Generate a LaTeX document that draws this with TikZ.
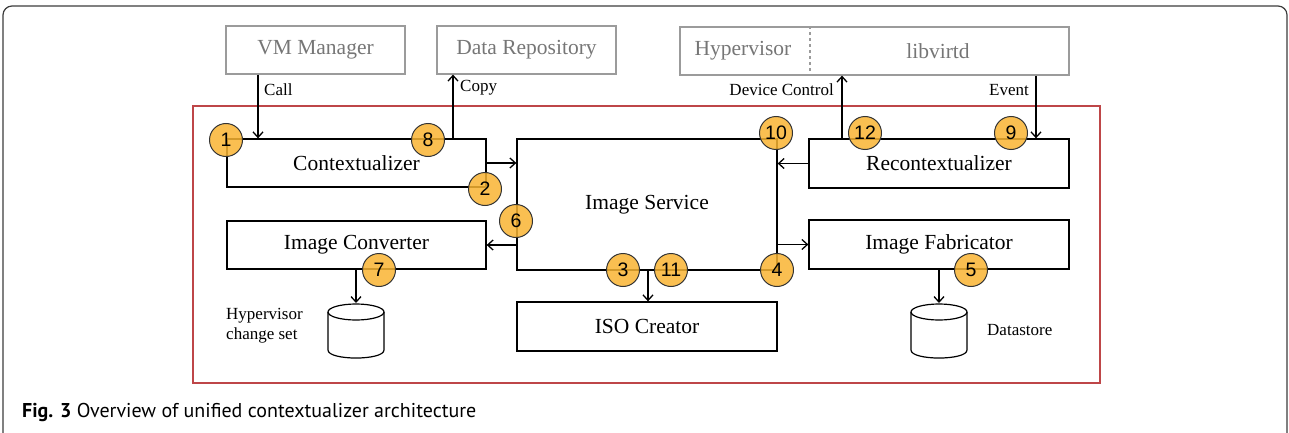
\documentclass[tikz,border=0pt]{standalone}
\usepackage{fontspec}
\setmainfont{Liberation Serif}
\newfontfamily\numfont{Liberation Sans}
\newfontfamily\capfont{PT Sans}
\usetikzlibrary{arrows.meta,calc}
\definecolor{frameline}{RGB}{60,60,60}
\definecolor{redframe}{RGB}{190,70,72}
\definecolor{greyline}{RGB}{155,155,155}
\definecolor{greytext}{RGB}{118,118,118}
\definecolor{stepfill}{RGB}{249,180,50}

\begin{document}
\begin{tikzpicture}[x=1pt,y=-1pt,
  box/.style={draw=black, line width=1.3pt, inner sep=0pt,
    font=\fontsize{21.5}{24}\selectfont},
  extbox/.style={draw=greyline, line width=1.2pt, text=greytext, inner sep=0pt,
    minimum height=48pt, font=\fontsize{21.5}{24}\selectfont},
  exttext/.style={text=greytext, inner sep=0pt, font=\fontsize{21.5}{24}\selectfont},
  arr/.style={line width=1.3pt, -{Straight Barb[length=5.5pt,width=10pt]}},
  lbl/.style={inner sep=0pt, font=\fontsize{17}{20}\selectfont},
  badge/.style={circle, draw=black!80, line width=1pt, fill=stepfill,
    fill opacity=0.85, text opacity=1, minimum size=33pt, inner sep=0pt,
    font=\numfont\fontsize{19.5}{19.5}\selectfont},
]
\useasboundingbox (0,0) rectangle (1289,433);
\clip (0,0) rectangle (1289,433);

% page frame and system boundary
\draw[frameline, line width=1.2pt, rounded corners=9pt] (3,6) rectangle (1287,470);
\draw[redframe, line width=1.2pt] (193,106) rectangle (1100,383);

% external components
\node[extbox, minimum width=179pt] (vmm) at (315.5,50) {VM Manager};
\node[extbox, minimum width=179pt] (repo) at (526.5,50) {Data Repository};
\node[extbox, minimum width=389pt] (hyp) at (874.5,51) {};
\coordinate (div) at (810,0);
\draw[greyline, line width=1.2pt, dashed] (hyp.north -| div) -- (hyp.south -| div);
\node[exttext] (hyptxt) at (743,51) {Hypervisor};
\node[exttext] (libv) at (938,51) {libvirtd};

% internal components
\node[box, minimum width=259pt, minimum height=48pt] (ctx) at (356.5,163) {Contextualizer};
\node[box, minimum width=260pt, minimum height=131pt] (svc) at (647,204.5) {Image Service};
\node[box, minimum width=260pt, minimum height=49pt] (rectx) at (939,163.5) {Recontextualizer};
\node[box, minimum width=259pt, minimum height=48pt] (conv) at (356.5,245) {Image Converter};
\node[box, minimum width=260pt, minimum height=49pt] (fab) at (939,244.5) {Image Fabricator};
\node[box, minimum width=260pt, minimum height=49pt] (iso) at (647,326.5) {ISO Creator};

% storage cylinders
\foreach \cx/\nm in {356/db1, 939/db2} {
  \draw[line width=1.2pt, fill=white]
    (\cx-28,312) -- (\cx-28,350)
    .. controls (\cx-28,360.7) and (\cx+28,360.7) .. (\cx+28,350)
    -- (\cx+28,312);
  \draw[line width=1.2pt] (\cx,312) ellipse [x radius=28, y radius=8];
  \coordinate (\nm) at (\cx,303);
}
\node[lbl, anchor=north west, align=left] (hcs) at (226,308) {Hypervisor\\change set};
\node[lbl, anchor=west] (dst) at (987,330) {Datastore};

% connectors
\coordinate (callx) at (258,0);
\coordinate (copyx) at (453,0);
\coordinate (devx) at (842,0);
\coordinate (evx) at (1036,0);
\coordinate (isox) at (648,0);
\draw[arr] (vmm.south -| callx) -- (ctx.north -| callx);
\draw[arr] (ctx.north -| copyx) -- (repo.south -| copyx);
\draw[arr] (rectx.north -| devx) -- (hyp.south -| devx);
\draw[arr] (hyp.south -| evx) -- (rectx.north -| evx);
\draw[arr] (ctx.east) -- (ctx.east -| svc.west);
\draw[arr] (rectx.west) -- (rectx.west -| svc.east);
\draw[arr] (svc.west |- conv.east) -- (conv.east);
\draw[arr] (svc.east |- fab.west) -- (fab.west);
\draw[arr] (svc.south -| isox) -- (iso.north -| isox);
\draw[arr] (conv.south -| db1) -- (db1);
\draw[arr] (fab.south -| db2) -- (db2);

\node[lbl, anchor=west] (calllbl) at (264,90) {Call};
\node[lbl, anchor=west] (copylbl) at (460,88) {Copy};
\node[lbl, anchor=east] (devlbl) at (834,90) {Device Control};
\node[lbl, anchor=east] (evlbl) at (1029,90) {Event};

% step markers
\node[badge] (s1) at (226,140) {1};
\node[badge] (s8) at (428,140) {8};
\node[badge] (s2) at (485,189) {2};
\node[badge] (s6) at (516,221) {6};
\node[badge] (s7) at (379,270) {7};
\node[badge] (s3) at (623,270) {3};
\node[badge] (s11) at (671,270) {11};
\node[badge] (s4) at (777,270) {4};
\node[badge] (s5) at (971,270) {5};
\node[badge] (s10) at (776,133) {10};
\node[badge] (s12) at (865,133) {12};
\node[badge] (s9) at (1011,133) {9};

% caption
\node[anchor=base west, inner sep=0pt, font=\capfont\fontsize{20}{24}\selectfont] (cap)
  at (22,417) {\textbf{Fig. 3} Overview of unified contextualizer architecture};
\end{tikzpicture}
\end{document}
